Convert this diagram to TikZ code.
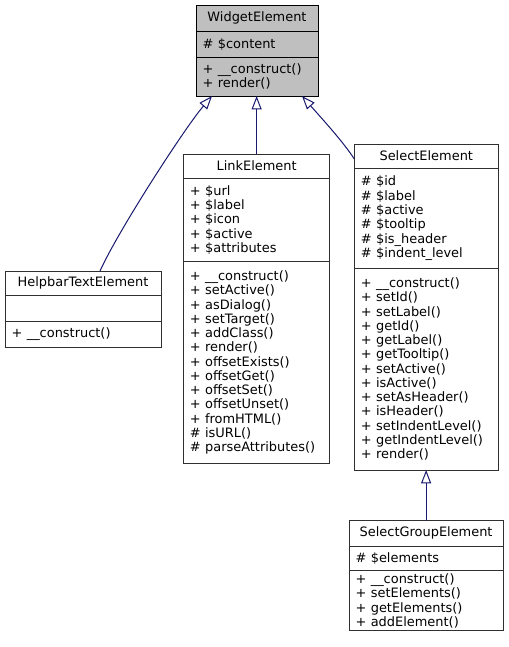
\documentclass[tikz,border=0pt]{standalone}
\usepackage{fontspec}
\setmainfont{DejaVu Sans}
\usetikzlibrary{arrows.meta,calc}
\definecolor{edgeblue}{HTML}{191970}
\definecolor{boxline}{HTML}{303030}
\definecolor{basefill}{HTML}{BFBFBF}

\begin{document}
\begin{tikzpicture}[x=0.75pt,y=-0.75pt,
  part/.style={draw=boxline,line width=0.75pt,anchor=north west,outer sep=0pt,inner xsep=5pt,inner ysep=0pt,align=left,font=\fontsize{9.7}{10.7}\selectfont},
  title/.style={part,align=center},
  base/.style={draw=black,fill=basefill},
  inherit/.style={draw=edgeblue,line width=0.75pt,-{Triangle[open,length=10pt,width=7.5pt,fill=white]}}]
\fill[white] (0,0) rectangle (509,647);
\useasboundingbox (0,0) rectangle (509,647);

% base class
\node[title,base,text width=81.5pt,minimum height=19.9pt] (widget) at (196,5) {WidgetElement};
\node[part,base,text width=81.5pt,minimum height=19.1pt] (widget-attr) at (widget.south west) {\# \$content};
\node[part,base,text width=81.5pt,minimum height=29.3pt] (widget-ops) at (widget-attr.south west) {+ \_\_construct()\\+ render()};

% HelpbarTextElement
\node[title,text width=107pt,minimum height=18.4pt] (helpbar) at (5,271) {HelpbarTextElement};
\node[part,text width=107pt,minimum height=19.5pt] (helpbar-attr) at (helpbar.south west) {};
\node[part,text width=107pt,minimum height=19.5pt] (helpbar-ops) at (helpbar-attr.south west) {+ \_\_construct()};

% LinkElement
\node[title,text width=100pt,minimum height=18.2pt] (link) at (183.3,154) {LinkElement};
\node[part,text width=100pt,minimum height=62.6pt] (link-attr) at (link.south west)
  {+ \$url\\+ \$label\\+ \$icon\\+ \$active\\+ \$attributes};
\node[part,text width=100pt,minimum height=151.2pt] (link-ops) at (link-attr.south west)
  {+ \_\_construct()\\+ setActive()\\+ asDialog()\\+ setTarget()\\+ addClass()\\+ render()\\+ offsetExists()\\+ offsetGet()\\+ offsetSet()\\+ offsetUnset()\\+ fromHTML()\\\# isURL()\\\# parseAttributes()};

% SelectElement
\node[title,text width=98pt,minimum height=18.2pt] (select) at (354.3,144) {SelectElement};
\node[part,text width=98pt,minimum height=75pt] (select-attr) at (select.south west)
  {\# \$id\\\# \$label\\\# \$active\\\# \$tooltip\\\# \$is\_header\\\# \$indent\_level};
\node[part,text width=98pt,minimum height=151.3pt] (select-ops) at (select-attr.south west)
  {+ \_\_construct()\\+ setId()\\+ setLabel()\\+ getId()\\+ getLabel()\\+ getTooltip()\\+ setActive()\\+ isActive()\\+ setAsHeader()\\+ isHeader()\\+ setIndentLevel()\\+ getIndentLevel()\\+ render()};

% SelectGroupElement
\node[title,text width=105.7pt,minimum height=19pt] (sgroup) at (349,520.7) {SelectGroupElement};
\node[part,text width=105.7pt,minimum height=18.5pt] (sgroup-attr) at (sgroup.south west) {\# \$elements};
\node[part,text width=105.7pt,minimum height=45.2pt] (sgroup-ops) at (sgroup-attr.south west)
  {+ \_\_construct()\\+ setElements()\\+ getElements()\\+ addElement()};

% inheritance
\draw[inherit] ($(helpbar.north)+(17,0)$) .. controls (118,231) and (185,127.5) .. ($(widget-ops.south)+(-45,0)$);
\draw[inherit] (link.north) -- (link.north |- widget-ops.south);
\draw[inherit] ($(select.north west)+(0,15)$) .. controls (344,143) and (325,122) .. ($(widget-ops.south)+(45,0)$);
\draw[inherit] (sgroup.north) -- (sgroup.north |- select-ops.south);

\end{tikzpicture}
\end{document}
